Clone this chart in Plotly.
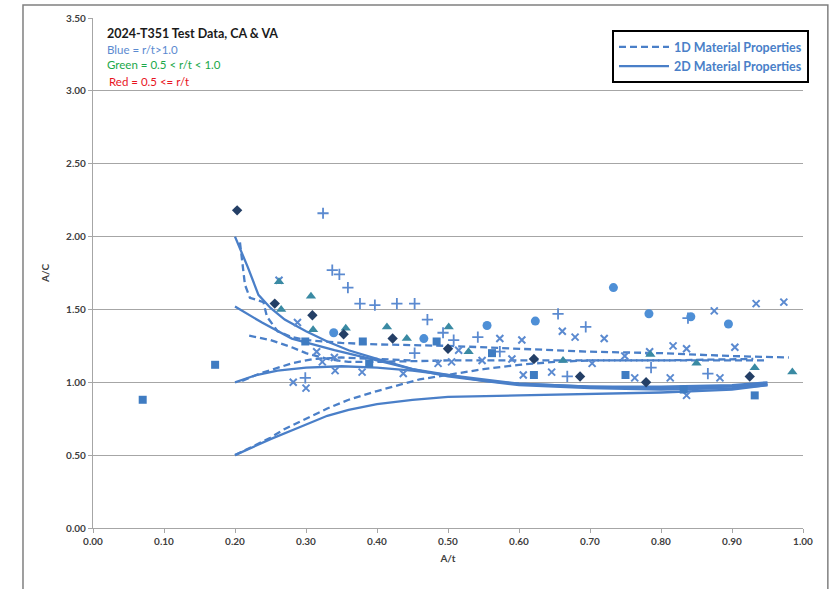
import plotly.graph_objects as go

# ---- measured data: A/t vs A/C ----
diamond_at = [0.203, 0.256, 0.309, 0.353, 0.422, 0.500, 0.621, 0.686, 0.779, 0.925]
diamond_ac = [2.18, 1.54, 1.46, 1.33, 1.30, 1.23, 1.16, 1.04, 1.00, 1.04]

tri_at = [0.262, 0.307, 0.265, 0.310, 0.356, 0.414, 0.442, 0.501, 0.529, 0.662, 0.785, 0.850, 0.932, 0.985]
tri_ac = [1.69, 1.59, 1.50, 1.36, 1.37, 1.38, 1.30, 1.38, 1.21, 1.15, 1.19, 1.13, 1.10, 1.07]

circ_at = [0.339, 0.466, 0.555, 0.623, 0.733, 0.783, 0.842, 0.895]
circ_ac = [1.34, 1.30, 1.39, 1.42, 1.65, 1.47, 1.45, 1.40]

sq_at = [0.070, 0.172, 0.299, 0.380, 0.389, 0.484, 0.562, 0.621, 0.750, 0.832, 0.932]
sq_ac = [0.88, 1.12, 1.28, 1.28, 1.13, 1.28, 1.20, 1.05, 1.05, 0.95, 0.91]

plus_at = [0.324, 0.337, 0.347, 0.359, 0.376, 0.397, 0.428, 0.453, 0.471, 0.493, 0.508,
           0.453, 0.542, 0.573, 0.655, 0.694, 0.668, 0.786, 0.866, 0.838, 0.299]
plus_ac = [2.16, 1.77, 1.74, 1.65, 1.54, 1.53, 1.54, 1.54, 1.43, 1.34, 1.29,
           1.20, 1.31, 1.21, 1.47, 1.38, 1.04, 1.10, 1.06, 1.44, 1.03]

x_at = [0.262, 0.288, 0.282, 0.300, 0.315, 0.323, 0.340, 0.341, 0.379, 0.437, 0.486, 0.505,
        0.515, 0.548, 0.573, 0.590, 0.604, 0.606, 0.646, 0.661, 0.679, 0.703, 0.720, 0.749,
        0.784, 0.763, 0.813, 0.817, 0.836, 0.836, 0.875, 0.883, 0.904, 0.934, 0.973]
x_ac = [1.70, 1.41, 1.00, 0.96, 1.21, 1.14, 1.17, 1.08, 1.07, 1.06, 1.13, 1.14,
        1.22, 1.15, 1.30, 1.16, 1.29, 1.05, 1.07, 1.35, 1.31, 1.13, 1.30, 1.18,
        1.21, 1.03, 1.03, 1.25, 1.23, 0.91, 1.49, 1.03, 1.24, 1.54, 1.55]

# ---- model curves ----
solid_curves = [
    ([0.20, 0.218, 0.233, 0.25, 0.27, 0.30, 0.33, 0.36, 0.40, 0.45, 0.50, 0.55, 0.60, 0.70, 0.80, 0.90, 0.95],
     [2.00, 1.79, 1.60, 1.51, 1.43, 1.35, 1.28, 1.22, 1.16, 1.09, 1.04, 1.01, 0.99, 0.97, 0.96, 0.97, 0.99]),
    ([0.20, 0.238, 0.28, 0.34, 0.40, 0.45, 0.50, 0.55, 0.60, 0.70, 0.80, 0.90, 0.95],
     [1.52, 1.41, 1.30, 1.22, 1.15, 1.09, 1.05, 1.01, 0.98, 0.96, 0.95, 0.96, 0.98]),
    ([0.20, 0.23, 0.26, 0.30, 0.35, 0.40, 0.45, 0.50, 0.55, 0.60, 0.70, 0.80, 0.90, 0.95],
     [1.00, 1.05, 1.08, 1.10, 1.11, 1.10, 1.08, 1.05, 1.02, 0.99, 0.97, 0.97, 0.98, 1.00]),
    ([0.20, 0.25, 0.29, 0.33, 0.36, 0.40, 0.45, 0.50, 0.60, 0.70, 0.80, 0.90, 0.95],
     [0.50, 0.61, 0.69, 0.77, 0.81, 0.85, 0.88, 0.90, 0.91, 0.92, 0.93, 0.95, 0.98]),
]

dashed_curves = [
    ([0.207, 0.214, 0.221, 0.24, 0.245, 0.26, 0.28, 0.30, 0.35, 0.40, 0.50, 0.60, 0.70, 0.80, 0.90, 0.98],
     [1.96, 1.67, 1.58, 1.55, 1.45, 1.35, 1.31, 1.29, 1.27, 1.26, 1.25, 1.23, 1.21, 1.20, 1.18, 1.17]),
    ([0.22, 0.25, 0.28, 0.30, 0.33, 0.36, 0.40, 0.50, 0.60, 0.70, 0.80, 0.93],
     [1.32, 1.29, 1.24, 1.20, 1.16, 1.14, 1.14, 1.15, 1.15, 1.15, 1.15, 1.16]),
    ([0.21, 0.235, 0.28, 0.31, 0.35, 0.40, 0.45],
     [1.01, 1.06, 1.13, 1.16, 1.17, 1.16, 1.15]),
    ([0.20, 0.25, 0.27, 0.30, 0.33, 0.36, 0.40, 0.46, 0.50, 0.55, 0.60, 0.65, 0.70, 0.80, 0.90, 0.95],
     [0.50, 0.62, 0.68, 0.75, 0.82, 0.88, 0.94, 1.02, 1.05, 1.09, 1.12, 1.14, 1.15, 1.15, 1.15, 1.15]),
]

x_ticks = [0.0, 0.1, 0.2, 0.3, 0.4, 0.5, 0.6, 0.7, 0.8, 0.9, 1.0]
y_ticks = [0.0, 0.5, 1.0, 1.5, 2.0, 2.5, 3.0, 3.5]

LINE_BLUE = "#4a7fc8"
MARK_BLUE = "#5b8ad0"

fig = go.Figure()

for i, (xs, ys) in enumerate(dashed_curves):
    fig.add_trace(go.Scatter(
        x=xs, y=ys, mode="lines", name="1D Material Properties",
        legendgroup="1d", showlegend=(i == 0),
        line=dict(color=LINE_BLUE, width=2.3, dash="7px,4px")))

for i, (xs, ys) in enumerate(solid_curves):
    fig.add_trace(go.Scatter(
        x=xs, y=ys, mode="lines", name="2D Material Properties",
        legendgroup="2d", showlegend=(i == 0),
        line=dict(color=LINE_BLUE, width=2.3)))

fig.add_trace(go.Scatter(x=x_at, y=x_ac, mode="markers", showlegend=False,
                         marker=dict(symbol="x-thin-open", size=7, color=MARK_BLUE,
                                     line=dict(color=MARK_BLUE, width=2))))
fig.add_trace(go.Scatter(x=plus_at, y=plus_ac, mode="markers", showlegend=False,
                         marker=dict(symbol="cross-thin-open", size=8, color=MARK_BLUE,
                                     line=dict(color=MARK_BLUE, width=1.8))))
fig.add_trace(go.Scatter(x=sq_at, y=sq_ac, mode="markers", showlegend=False,
                         marker=dict(symbol="square", size=8, color="#3f7cc2")))
fig.add_trace(go.Scatter(x=circ_at, y=circ_ac, mode="markers", showlegend=False,
                         marker=dict(symbol="circle", size=9, color="#4e8fd6")))
fig.add_trace(go.Scatter(x=tri_at, y=tri_ac, mode="markers", showlegend=False,
                         marker=dict(symbol="triangle-up", size=9, color="#3a8aa3")))
fig.add_trace(go.Scatter(x=diamond_at, y=diamond_ac, mode="markers", showlegend=False,
                         marker=dict(symbol="diamond", size=8, color="#243f66")))

axis_font = dict(family="Lato, Open Sans, sans-serif", size=10, color="#404040")

fig.update_layout(
    width=831, height=589,
    margin=dict(l=93, r=28, t=18, b=61),
    paper_bgcolor="white", plot_bgcolor="white",
    font=dict(family="Lato, Open Sans, sans-serif"),
    xaxis=dict(range=[0, 1], tickvals=x_ticks, tickformat=".2f",
               showgrid=False, zeroline=False, showline=True,
               linecolor="#a6a6a6", linewidth=1.2, ticks="outside",
               ticklen=4, tickcolor="#a6a6a6",
               tickfont=dict(axis_font, weight="bold"),
               title=dict(text="<b>A/t</b>", font=dict(axis_font), standoff=8)),
    yaxis=dict(range=[0, 3.5], tickvals=y_ticks, tickformat=".2f",
               showgrid=True, gridcolor="#a6a6a6", gridwidth=1.3,
               zeroline=False, showline=True,
               linecolor="#a6a6a6", linewidth=1.2, ticks="outside",
               ticklen=4, tickcolor="#a6a6a6",
               tickfont=dict(axis_font, weight="bold"),
               title=dict(text="<b>A/C</b>", font=dict(axis_font), standoff=14)),
    legend=dict(x=0.731, y=0.976, xanchor="left", yanchor="top",
                bgcolor="white", bordercolor="black", borderwidth=2,
                font=dict(family="Lato, Open Sans, sans-serif", size=12.5,
                          color=LINE_BLUE, weight="bold"),
                tracegroupgap=0, itemwidth=50),
    showlegend=True,
)

# caption block in the upper-left of the plot
caption = [
    ("<b>2024-T351 Test Data, CA & VA</b>", "#1a1a1a", 0.0, 12.5),
    ("Blue = r/t>1.0", "#5b8ad0", 0.0, 11.5),
    ("Green = 0.5 < r/t < 1.0", "#1aa84a", 0.0, 11.5),
    ("Red = 0.5 <= r/t", "#e8141e", 0.003, 11.5),
]
y_pos = [0.970, 0.939, 0.908, 0.875]
for (txt, col, dx, size), yy in zip(caption, y_pos):
    fig.add_annotation(x=0.017 + dx, y=yy, xref="paper", yref="paper",
                       text=txt, showarrow=False, xanchor="left", yanchor="middle",
                       font=dict(family="Lato, Open Sans, sans-serif", size=size, color=col))

# outer chart frame
fig.add_shape(type="rect", xref="paper", yref="paper",
              x0=-0.0986, x1=1.035, y0=-0.14, y1=1.0255,
              line=dict(color="#808080", width=1.5), fillcolor="rgba(0,0,0,0)")

fig.write_html("out.html")
